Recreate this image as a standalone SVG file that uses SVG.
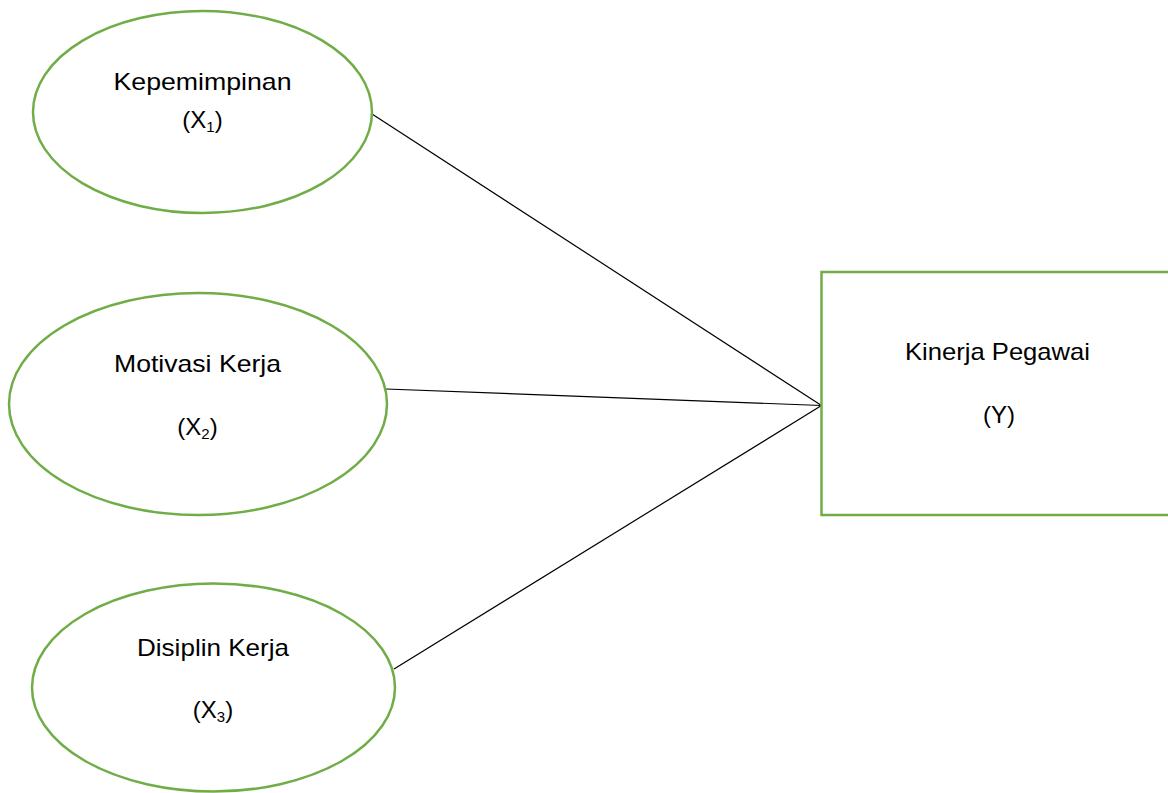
<svg xmlns="http://www.w3.org/2000/svg" width="1168" height="793" viewBox="0 0 1168 793">
<style>
.node{fill:#ffffff;stroke:#70AD47;stroke-width:2.5}
.lbl{font-family:"Liberation Sans","Open Sans",sans-serif;font-size:24px;fill:#000000;text-anchor:middle}
.sub{font-size:15px}
.conn{stroke:#000000;stroke-width:1.2;fill:none}
</style>
<rect width="1168" height="793" fill="#ffffff"/>
<g id="connectors">
<line class="conn" x1="372" y1="114" x2="821.5" y2="405.5"/>
<line class="conn" x1="386" y1="389" x2="821.5" y2="405.5"/>
<line class="conn" x1="394" y1="669" x2="821.5" y2="405.5"/>
</g>
<g id="node-x1">
<ellipse class="node" cx="202.5" cy="112" rx="169.5" ry="101"/>
<text class="lbl" x="202.5" y="90" textLength="178" lengthAdjust="spacingAndGlyphs">Kepemimpinan</text>
<text class="lbl" x="202.5" y="128">(X<tspan class="sub" dy="4">1</tspan><tspan dy="-4">)</tspan></text>
</g>
<g id="node-x2">
<ellipse class="node" cx="198" cy="404" rx="189" ry="111"/>
<text class="lbl" x="197.5" y="372" textLength="167" lengthAdjust="spacingAndGlyphs">Motivasi Kerja</text>
<text class="lbl" x="197.5" y="435">(X<tspan class="sub" dy="4">2</tspan><tspan dy="-4">)</tspan></text>
</g>
<g id="node-x3">
<ellipse class="node" cx="213.5" cy="687.5" rx="181.5" ry="104"/>
<text class="lbl" x="213" y="656" textLength="152" lengthAdjust="spacingAndGlyphs">Disiplin Kerja</text>
<text class="lbl" x="213" y="718">(X<tspan class="sub" dy="4">3</tspan><tspan dy="-4">)</tspan></text>
</g>
<g id="node-y">
<rect class="node" x="821.5" y="272" width="400" height="243"/>
<text class="lbl" x="997.5" y="360" textLength="185" lengthAdjust="spacingAndGlyphs">Kinerja Pegawai</text>
<text class="lbl" x="999" y="423">(Y)</text>
</g>
</svg>
